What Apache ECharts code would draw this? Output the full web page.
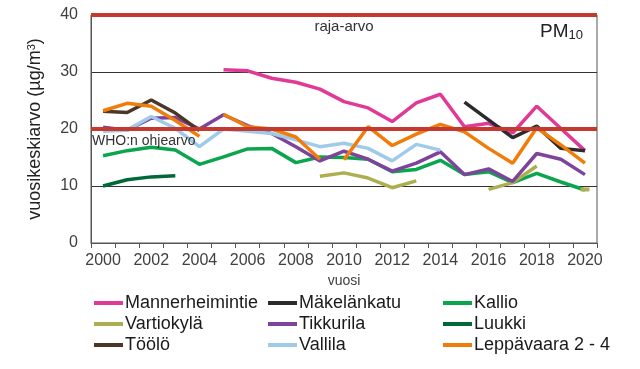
<!DOCTYPE html>
<html><head><meta charset="utf-8">
<script src="https://cdn.jsdelivr.net/npm/echarts@6/dist/echarts.min.js"></script>
<style>html,body{margin:0;padding:0;background:#fff}#c{width:640px;height:369px}</style>
</head><body><div id="c"></div>
<script>
const years = ['2000','2001','2002','2003','2004','2005','2006','2007','2008','2009','2010','2011','2012','2013','2014','2015','2016','2017','2018','2019','2020'];
const mannerheimintie = [null,null,null,null,null,30.4,30.2,28.9,28.2,27.0,24.8,23.7,21.3,24.6,26.1,20.4,21.0,19.3,24.0,20.1,16.2];
const makelankatu = [null,null,null,null,null,null,null,null,null,null,null,null,null,null,null,24.7,21.6,18.5,20.5,16.6,16.2];
const kallio = [15.3,16.2,16.8,16.3,13.8,15.1,16.5,16.6,14.1,15.1,15.0,14.7,12.5,12.9,14.5,12.0,12.5,10.6,12.2,10.7,9.3];
const vartiokyla = [null,null,null,null,null,null,null,null,null,11.7,12.3,11.4,9.7,10.9,null,null,9.4,10.6,13.5,null,9.4];
const tikkurila = [20.3,19.8,21.9,22.0,20.0,22.5,20.6,19.2,16.9,14.4,16.1,14.7,12.6,14.0,16.0,12.0,13.0,10.8,15.7,14.7,12.0];
const luukki = [10.0,11.1,11.6,11.8,null,null,null,null,null,null,null,null,null,null,null,null,null,null,null,null,null];
const toolo = [23.1,22.9,25.1,22.8,19.7,null,null,null,null,null,null,null,null,null,null,null,null,null,null,null,null];
const vallila = [19.6,19.8,22.2,20.1,16.9,20.0,19.6,19.2,18.1,16.9,17.5,16.6,14.4,17.3,16.3,null,null,null,null,null,null];
const leppavaara2 = [23.2,24.5,24.0,21.5,18.7,null,null,null,null,null,null,null,null,null,null,null,null,null,null,null,null];
const leppavaara3 = [null,null,null,null,null,22.6,20.4,20.0,18.6,14.7,null,null,null,null,null,null,null,null,null,null,null];
const leppavaara4 = [null,null,null,null,null,null,null,null,null,null,14.6,20.4,17.1,19.1,20.8,19.5,16.6,14.0,20.2,17.2,14.0];
const limitValues = [40, 20];
const limitLabels = ['raja-arvo', 'WHO:n ohjearvo'];
const yTicks = [0, 10, 20, 30, 40];

const seriesDefs = [
  ['Mannerheimintie', mannerheimintie, '#e03a96'],
  ['Mäkelänkatu', makelankatu, '#2b2b2b'],
  ['Kallio', kallio, '#0aa54c'],
  ['Vartiokylä', vartiokyla, '#adae50'],
  ['Tikkurila', tikkurila, '#7e449c'],
  ['Luukki', luukki, '#00693a'],
  ['Töölö', toolo, '#4b3628'],
  ['Vallila', vallila, '#9fcbeb'],
  ['Leppävaara 2 - 4', leppavaara2, '#f07c0a'],
  ['Leppävaara 2 - 4', leppavaara3, '#f07c0a'],
  ['Leppävaara 2 - 4', leppavaara4, '#f07c0a']
];

function toData(arr) {
  return arr.map((v, i) => {
    const prev = i > 0 ? arr[i-1] : null, next = i < arr.length-1 ? arr[i+1] : null;
    if (v != null && prev == null && next == null) {
      return {value: v, symbol: 'rect', symbolSize: [9, 4]};
    }
    return v;
  });
}

const series = seriesDefs.map(([name, arr, color], idx) => {
  const s = {
    name, type: 'line', data: toData(arr), color,
    symbol: 'none', lineStyle: {width: 3.5, color}, itemStyle: {color},
    connectNulls: false, animation: false, silent: true, z: 3
  };
  if (idx === 0) {
    s.markLine = {
      silent: true, symbol: 'none', animation: false,
      lineStyle: {color: '#c43a2f', width: 4, type: 'solid'},
      data: limitValues.map((v, i) => ({
        yAxis: v,
        label: i === 0
          ? {show: true, formatter: limitLabels[i], position: 'insideMiddleBottom', distance: 4, fontSize: 15, color: '#333', fontFamily: 'Liberation Sans'}
          : {show: true, formatter: limitLabels[i], position: 'insideStartBottom', distance: [1, 5], fontSize: 14, color: '#333', fontFamily: 'Liberation Sans'}
      }))
    };
  }
  return s;
});

const font = 'Liberation Sans';
const legendBase = {
  orient: 'vertical', top: 294, padding: 0, itemWidth: 29, itemHeight: 4, itemGap: 3,
  icon: 'rect', selectedMode: false,
  textStyle: {fontSize: 18, color: '#1a1a1a', fontFamily: font, lineHeight: 18, padding: [0,0,0,-3]}
};

const chart = echarts.init(document.getElementById('c'), null, {renderer: 'canvas'});
chart.setOption({
  backgroundColor: '#fff',
  animation: false,
  grid: {left: 91, right: 43, top: 15, bottom: 126, show: true, borderColor: '#555', borderWidth: 1},
  xAxis: {
    type: 'category', data: years, boundaryGap: true,
    name: 'vuosi', nameLocation: 'middle', nameGap: 28,
    nameTextStyle: {fontSize: 14, color: '#404040', fontFamily: font},
    axisLine: {lineStyle: {color: '#555', width: 1}},
    axisTick: {show: true, interval: 0, length: 5, lineStyle: {color: '#555'}},
    axisLabel: {interval: 1, fontSize: 16, color: '#404040', margin: 10, fontFamily: font}
  },
  yAxis: {
    type: 'value', min: yTicks[0], max: yTicks[yTicks.length-1], interval: 10,
    name: '{a|vuosikeskiarvo (µg/m}{s|3}{a|)}', nameLocation: 'middle', nameRotate: 90, nameGap: 46,
    nameTextStyle: {rich: {
      a: {fontSize: 18, color: '#222', fontFamily: font},
      s: {fontSize: 11, color: '#222', fontFamily: font, verticalAlign: 'top', padding: [0,0,8,0]}
    }},
    axisLine: {show: true, lineStyle: {color: '#555'}},
    axisTick: {show: false},
    axisLabel: {fontSize: 16, color: '#404040', margin: 13, fontFamily: font},
    splitLine: {lineStyle: {color: '#333', width: 1}}
  },
  legend: [
    Object.assign({}, legendBase, {left: 94, data: ['Mannerheimintie', 'Vartiokylä', 'Töölö']}),
    Object.assign({}, legendBase, {left: 268, data: ['Mäkelänkatu', 'Tikkurila', 'Vallila']}),
    Object.assign({}, legendBase, {left: 443, data: ['Kallio', 'Luukki', 'Leppävaara 2 - 4']})
  ],
  graphic: [{
    type: 'text', left: 540, top: 22, silent: true,
    style: {
      text: '{p|PM}{s|10}',
      rich: {
        p: {fontSize: 19, fill: '#222', fontFamily: font},
        s: {fontSize: 13, fill: '#222', fontFamily: font, padding: [8,0,0,0]}
      }
    }
  }],
  series
});
</script>
</body></html>
